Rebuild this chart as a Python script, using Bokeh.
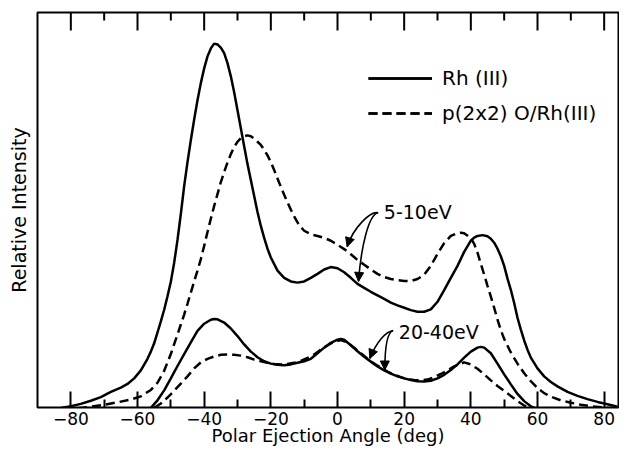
from bokeh.plotting import figure
from bokeh.models import (LinearAxis, FixedTicker, Legend, LegendItem, Arrow,
                          NormalHead, ColumnDataSource, Range1d)
from bokeh.core.properties import value
from bokeh.embed import file_html
from bokeh.resources import INLINE

FONT = "DejaVu Sans"

# ---------------- data ----------------
# Rh(111), 5-10 eV
ang_rh_low = [-83, -80, -77, -74, -71, -68, -65, -63, -61, -59, -57, -56, -55, -54, -53, -52,
              -51, -50, -49, -48, -47, -46, -45, -44, -43, -42, -41, -40, -39, -38, -37, -36,
              -35, -34, -33, -32, -31, -30, -29, -28, -27, -26, -25, -24, -23, -22, -21, -20,
              -18, -16, -14, -12, -10, -8, -6, -4, -2, 0, 2, 4, 6, 8, 10, 12, 14, 16, 18, 20,
              22, 24, 26, 28, 30, 32, 34, 36, 38, 40, 41, 42, 43.5, 45, 46, 47, 48, 49, 50, 51,
              52, 53, 54, 55, 56, 57, 58, 60, 62, 64, 66, 69, 72, 75, 78, 81, 84]
int_rh_low = [0.9, 1.3, 1.9, 2.7, 3.6, 4.9, 6.0, 6.9, 8.3, 10.3, 13.2, 15.0, 17.1, 19.8, 22.6, 25.5,
              28.9, 32.5, 37.3, 43.0, 49.5, 56.5, 62.5, 68.0, 73.2, 78.0, 82.3, 86.0, 89.0, 91.0, 92.2, 92.0,
              91.2, 89.8, 87.3, 84.0, 80.0, 75.5, 71.0, 66.5, 62.0, 58.0, 54.0, 50.0, 46.5, 43.5, 40.8, 38.6,
              35.3, 33.5, 32.6, 32.3, 32.6, 33.5, 34.5, 35.6, 36.2, 35.9, 34.9, 33.5, 32.0, 31.0, 30.0, 29.1,
              28.2, 27.3, 26.6, 26.0, 25.4, 25.0, 25.0, 25.6, 27.5, 30.4, 33.5, 36.5, 40.0, 42.8, 43.6, 44.0,
              44.2, 43.9, 43.3, 42.3, 40.8, 38.9, 36.5, 33.3, 30.5, 27.2, 23.5, 20.5, 17.8, 15.5, 13.5, 10.8,
              8.8, 7.4, 6.3, 4.9, 3.9, 3.1, 2.4, 1.8, 1.2]

# p(2x2)O/Rh(111), 5-10 eV
ang_o_low = [-82, -78, -74, -70, -66, -62, -59, -56, -54, -52, -50, -49, -48, -47, -46, -45, -44,
             -43, -42, -41, -40, -39, -38, -37, -36, -35, -34, -33, -32, -31, -30, -29, -28, -27,
             -26, -25, -24, -23, -22, -21, -20, -19, -18, -17, -16, -15, -14, -13, -12, -11, -10,
             -8, -6, -4, -2, 0, 2, 4, 6, 8, 10, 12, 14, 16, 18, 20, 22, 24, 26, 28, 30, 32, 34,
             36, 37, 38, 40, 41, 42, 43, 44, 45, 46, 47, 48, 49, 50, 52, 54, 56, 58, 60, 62, 64,
             67, 70, 73, 76, 80, 84]
int_o_low = [0.6, 0.8, 1.2, 1.7, 2.3, 3.0, 3.8, 5.4, 7.2, 10.2, 14.4, 16.9, 19.3, 21.8, 24.3, 27.0, 29.8,
             32.6, 35.3, 38.2, 41.5, 45.0, 48.3, 51.5, 54.5, 57.5, 60.0, 62.4, 64.5, 66.3, 67.6, 68.5, 69.0, 69.2,
             69.0, 68.4, 67.6, 66.8, 65.6, 64.2, 62.5, 60.5, 58.4, 56.3, 54.3, 52.4, 50.6, 48.9, 47.4, 46.2, 45.3,
             44.4, 44.0, 43.5, 42.8, 41.8, 40.7, 39.4, 38.0, 36.8, 35.6, 34.5, 33.7, 33.2, 32.9, 32.7, 32.7, 33.2,
             34.3, 36.5, 39.5, 42.2, 44.0, 44.7, 44.8, 44.7, 43.5, 42.0, 39.8, 37.0, 34.3, 31.5, 28.8, 26.0, 23.0,
             20.4, 18.2, 14.8, 12.0, 9.6, 7.6, 5.9, 4.6, 3.7, 2.8, 2.2, 1.7, 1.3, 1.0, 0.7]

# Rh(111), 20-40 eV
ang_rh_high = [-61, -58, -56, -54, -52, -50, -48, -46, -44, -42, -40, -38, -37, -36, -34, -32, -30,
               -28, -26, -24, -22, -20, -18, -16, -14, -12, -10, -8, -6, -4, -2, 0, 1, 2, 4, 6, 8,
               10, 12, 14, 16, 18, 20, 22, 24, 26, 28, 30, 32, 34, 36, 38, 40, 42, 43, 44, 46, 48,
               50, 52, 54, 56, 58, 60, 62, 64]
int_rh_high = [0.2, 0.5, 0.9, 2.8, 5.3, 8.3, 11.4, 14.4, 17.3, 20.2, 22.0, 23.0, 23.2, 23.1, 22.3, 20.8, 18.9,
               16.8, 15.0, 13.6, 12.6, 12.0, 11.7, 11.6, 11.8, 12.2, 12.6, 13.2, 14.6, 16.0, 17.2, 18.0, 18.2,
               18.0, 16.6, 15.1, 13.7, 12.5, 11.3, 10.3, 9.5, 8.8, 8.3, 7.9, 7.6, 7.5, 7.7, 8.3, 9.2, 10.4,
               11.8, 13.5, 15.0, 16.0, 16.2, 16.0, 14.6, 12.0, 9.3, 6.8, 4.4, 2.6, 1.3, 0.6, 0.2, 0.05]

# p(2x2)O/Rh(111), 20-40 eV
ang_o_high = [-59, -57, -55, -53, -51, -49, -47, -45, -43, -41, -39, -37, -35, -33, -31, -29, -27,
              -25, -23, -21, -19, -17, -15, -13, -11, -9, -7, -5, -3, -1, 1, 3, 5, 7, 9, 11, 13,
              15, 17, 19, 21, 23, 25, 27, 29, 31, 33, 35, 37, 38, 40, 42, 44, 46, 48, 50, 52, 54,
              56, 58, 60, 62]
int_o_high = [0.1, 0.35, 0.9, 2.0, 3.5, 5.2, 7.0, 8.8, 10.8, 12.3, 13.2, 13.8, 14.2, 14.3, 14.2, 14.0, 13.6,
              13.0, 12.6, 12.2, 11.9, 11.8, 11.9, 12.2, 12.7, 13.4, 14.3, 15.5, 16.6, 17.5, 17.9, 17.3, 16.0,
              14.6, 13.2, 12.0, 11.0, 10.0, 9.2, 8.6, 8.1, 7.9, 7.8, 8.0, 8.6, 9.4, 10.3, 11.3, 12.0, 12.3,
              11.8, 10.7, 9.3, 7.8, 6.4, 5.2, 3.9, 2.6, 1.5, 0.7, 0.3, 0.1]

major_ticks = [-80, -60, -40, -20, 0, 20, 40, 60, 80]
minor_ticks = [-70, -50, -30, -10, 10, 30, 50, 70]

legend_labels = ["Rh (III)", "p(2x2) O/Rh(III)"]

# energy-window annotations and their curved pointers
ann_text = ["5-10eV", "20-40eV"]
ann_x = [13.9, 18.4]
ann_y = [50.0, 19.8]

ptr_x0 = [12.2, 12.2, 16.7, 16.7]
ptr_y0 = [49.8, 49.8, 20.3, 20.3]
ptr_cx0 = [9.7, 9.2, 14.4, 15.0]
ptr_cy0 = [50.2, 49.4, 20.0, 19.9]
ptr_cx1 = [4.7, 7.0, 11.7, 14.2]
ptr_cy1 = [46.0, 40.6, 17.4, 16.5]
ptr_x1 = [2.9, 6.3, 9.7, 14.2]
ptr_y1 = [41.3, 32.6, 13.3, 10.4]

# ---------------- figure ----------------
W, H = 619, 449
B_LEFT, B_RIGHT, B_TOP, B_BOTTOM = 37, 1, 12, 42
FRAME_H = H - B_TOP - B_BOTTOM

p = figure(width=W, height=H, x_range=Range1d(-90, 84.3), y_range=Range1d(1.0, 100),
           output_backend="svg", toolbar_location=None,
           x_axis_location=None, y_axis_location=None,
           min_border_left=B_LEFT, min_border_right=B_RIGHT,
           min_border_top=B_TOP, min_border_bottom=B_BOTTOM,
           background_fill_color="white", border_fill_color="white")
p.extra_y_ranges = {"px": Range1d(0, FRAME_H)}
p.xgrid.visible = False
p.ygrid.visible = False
p.outline_line_color = "black"
p.outline_line_width = 2
p.outline_line_alpha = 1.0

ticker = FixedTicker(ticks=major_ticks, minor_ticks=minor_ticks)

xaxis = LinearAxis(ticker=ticker, axis_label="Polar Ejection Angle (deg)",
                   axis_line_color=None,
                   major_tick_in=16, major_tick_out=0, minor_tick_in=8, minor_tick_out=0,
                   major_tick_line_width=2, minor_tick_line_width=2,
                   major_tick_line_color="black", minor_tick_line_color="black",
                   major_label_text_font=FONT, major_label_text_font_size="17px",
                   major_label_text_color="black", major_label_standoff=4,
                   axis_label_text_font=FONT, axis_label_text_font_size="18px",
                   axis_label_text_font_style="normal", axis_label_text_color="black",
                   axis_label_standoff=-3)
p.add_layout(xaxis, "below")

yaxis = LinearAxis(ticker=FixedTicker(ticks=[]), axis_label="Relative Intensity",
                   axis_line_color=None, major_tick_line_color=None, minor_tick_line_color=None,
                   major_label_standoff=0,
                   axis_label_text_font=FONT, axis_label_text_font_size="19px",
                   axis_label_text_font_style="normal", axis_label_text_color="black",
                   axis_label_standoff=8)
p.add_layout(yaxis, "left")

# inward ticks along the top edge of the frame (same tick positions as the bottom axis)
p.segment(x0=major_ticks, y0=[FRAME_H] * len(major_ticks), x1=major_ticks,
          y1=[FRAME_H - 18] * len(major_ticks), y_range_name="px",
          line_color="black", line_width=2)
p.segment(x0=minor_ticks, y0=[FRAME_H] * len(minor_ticks), x1=minor_ticks,
          y1=[FRAME_H - 8] * len(minor_ticks), y_range_name="px",
          line_color="black", line_width=2)

LW = 2.5
DASH = "9 5"
r_rh_low = p.line(ang_rh_low, int_rh_low, line_color="black", line_width=LW)
r_o_low = p.line(ang_o_low, int_o_low, line_color="black", line_width=LW, line_dash=DASH)
r_rh_high = p.line(ang_rh_high, int_rh_high, line_color="black", line_width=LW)
r_o_high = p.line(ang_o_high, int_o_high, line_color="black", line_width=LW, line_dash=DASH)

legend = Legend(items=[LegendItem(label=legend_labels[0], renderers=[r_rh_low, r_rh_high]),
                       LegendItem(label=legend_labels[1], renderers=[r_o_low, r_o_high])],
                location=(331, 282), orientation="vertical",
                glyph_width=64, glyph_height=20, label_standoff=10, spacing=11,
                padding=0, margin=0, border_line_color=None, background_fill_alpha=0,
                label_text_font=FONT, label_text_font_size="20px", label_text_color="black")
p.add_layout(legend)

p.text(x=ann_x, y=ann_y, text=ann_text, text_font=value(FONT), text_font_size="19px",
       text_baseline="middle", text_align="left", text_color="black")

p.bezier(x0=ptr_x0, y0=ptr_y0, x1=ptr_x1, y1=ptr_y1, cx0=ptr_cx0, cy0=ptr_cy0,
         cx1=ptr_cx1, cy1=ptr_cy1, line_color="black", line_width=1.6)

ptr_src = ColumnDataSource(dict(xs=ptr_cx1, ys=ptr_cy1, xe=ptr_x1, ye=ptr_y1))
p.add_layout(Arrow(end=NormalHead(size=9, fill_color="black", line_color="black", line_width=1),
                   x_start="xs", y_start="ys", x_end="xe", y_end="ye",
                   line_color=None, source=ptr_src))

open("out.html", "w").write(file_html(p, INLINE))
